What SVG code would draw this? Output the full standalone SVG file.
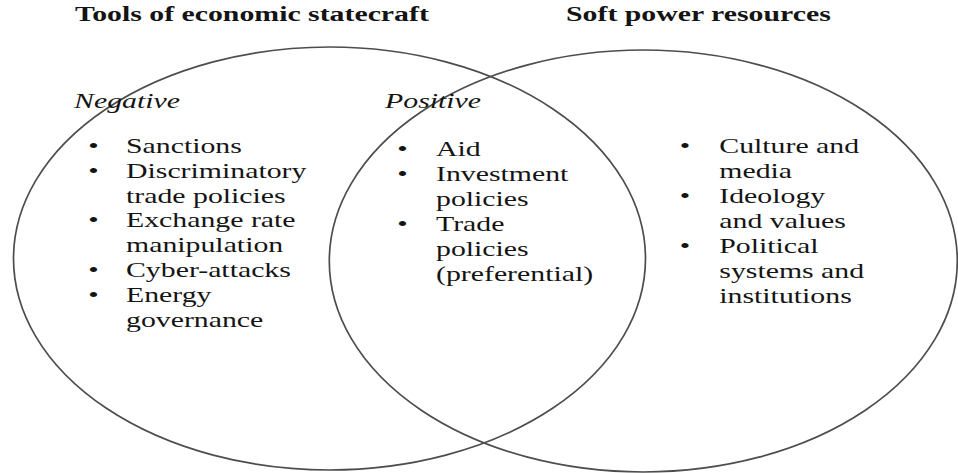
<svg xmlns="http://www.w3.org/2000/svg" width="958" height="473" viewBox="0 0 958 473">
  <style>
    .set { fill: none; stroke: #4d4d4d; stroke-width: 1.7; }
    .t { font-family: "Liberation Serif", "Times New Roman", serif; font-size: 21px; fill: #141414; }
    .title { font-weight: bold; }
    .cat { font-style: italic; }
    .dot { text-anchor: middle; }
  </style>
  <rect width="958" height="473" fill="#ffffff"/>

  <!-- Overlapping sets -->
  <g id="set-statecraft">
    <ellipse class="set" cx="329.5" cy="258.5" rx="316" ry="211.5"/>
  </g>
  <g id="set-soft-power">
    <ellipse class="set" cx="643.3" cy="261" rx="314" ry="211"/>
  </g>

  <!-- Headings (glyphs widened 1.42x) -->
  <g id="heading-statecraft" transform="translate(75 0) scale(1.42 1)">
    <text class="t title" x="0" y="21">Tools of economic statecraft</text>
  </g>
  <g id="heading-soft-power" transform="translate(566 0) scale(1.42 1)">
    <text class="t title" x="0" y="21">Soft power resources</text>
  </g>

  <!-- Negative tools -->
  <g id="negative" transform="translate(126 0) scale(1.42 1)">
    <text class="t cat" x="-36.6" y="108.3">Negative</text>
    <text class="t dot" x="-23" y="152.7">•</text>
    <text class="t" x="0" y="152.7">Sanctions</text>
    <text class="t dot" x="-23" y="177.6">•</text>
    <text class="t" x="0" y="177.6">Discriminatory</text>
    <text class="t" x="0" y="202.6">trade policies</text>
    <text class="t dot" x="-23" y="227.5">•</text>
    <text class="t" x="0" y="227.5">Exchange rate</text>
    <text class="t" x="0" y="252.5">manipulation</text>
    <text class="t dot" x="-23" y="277.4">•</text>
    <text class="t" x="0" y="277.4">Cyber-attacks</text>
    <text class="t dot" x="-23" y="302.4">•</text>
    <text class="t" x="0" y="302.4">Energy</text>
    <text class="t" x="0" y="327.3">governance</text>
  </g>

  <!-- Positive tools (overlap) -->
  <g id="positive" transform="translate(436 0) scale(1.42 1)">
    <text class="t cat" x="-35.9" y="108.3">Positive</text>
    <text class="t dot" x="-23.7" y="155.7">•</text>
    <text class="t" x="0" y="155.7">Aid</text>
    <text class="t dot" x="-23.7" y="180.7">•</text>
    <text class="t" x="0" y="180.7">Investment</text>
    <text class="t" x="0" y="205.7">policies</text>
    <text class="t dot" x="-23.7" y="230.7">•</text>
    <text class="t" x="0" y="230.7">Trade</text>
    <text class="t" x="0" y="255.7">policies</text>
    <text class="t" x="0" y="280.7">(preferential)</text>
  </g>

  <!-- Soft power resources -->
  <g id="soft-power" transform="translate(719.3 0) scale(1.42 1)">
    <text class="t dot" x="-24.2" y="153.3">•</text>
    <text class="t" x="0" y="153.3">Culture and</text>
    <text class="t" x="0" y="178.3">media</text>
    <text class="t dot" x="-24.2" y="203.3">•</text>
    <text class="t" x="0" y="203.3">Ideology</text>
    <text class="t" x="0" y="228.3">and values</text>
    <text class="t dot" x="-24.2" y="253.3">•</text>
    <text class="t" x="0" y="253.3">Political</text>
    <text class="t" x="0" y="278.3">systems and</text>
    <text class="t" x="0" y="303.3">institutions</text>
  </g>
</svg>
